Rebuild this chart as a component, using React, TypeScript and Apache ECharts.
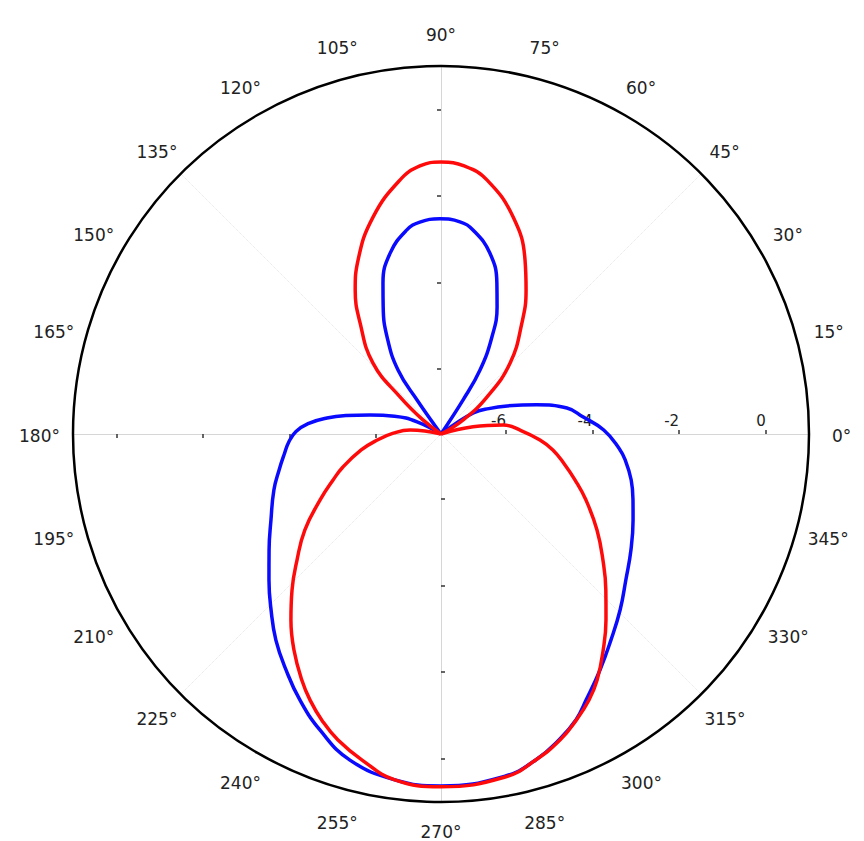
import { useEffect, useRef } from 'react';
import * as echarts from 'echarts';

// ---------- data ----------
const R_MIN = -7.5;
const R_MAX = 1;
const RADIUS_TICKS = [-6, -4, -2, 0];
const ANGLE_STEP = 15;

// blue pattern, upper lobe (angle in degrees, value)
const BLUE_UP_ANG = [57, 57.1, 58.6, 62.3, 66.2, 69.7, 74.9, 81.1, 84.9, 90.3, 95.7, 99.5, 105.7, 111, 114.5, 119.1, 123.9, 125.2, 125.5];
const BLUE_UP_VAL = [-7.5, -6.56, -5.77, -4.97, -4.29, -3.78, -3.17, -2.73, -2.58, -2.53, -2.58, -2.72, -3.16, -3.76, -4.28, -4.94, -5.72, -6.54, -7.5];

// blue pattern, lower lobe
const BLUE_LOW_ANG = [150, 153, 159, 165, 169, 172, 175.5, 179, 183, 187, 192.5, 198.5, 206.8, 214, 220.3, 226, 231.3, 236.7, 242, 247.8, 254.4, 262.4, 270, 280.6, 286.2, 291.3, 295.3, 298.6, 304, 309.5, 315.5, 321.7, 328.6, 335.9, 341, 346.4, 351.9, 355.5, 1.4, 6.9, 11.7, 17, 23, 28, 33, 36, 40];
const BLUE_LOW_VAL = [-7.5, -6.88, -6.35, -5.8, -5.27, -4.84, -4.42, -4.15, -3.98, -3.86, -3.67, -3.43, -3.1, -2.71, -2.29, -1.85, -1.4, -0.98, -0.55, -0.11, 0.32, 0.56, 0.63, 0.54, 0.34, 0.06, -0.2, -0.5, -0.93, -1.33, -1.7, -2.06, -2.36, -2.64, -2.81, -2.98, -3.2, -3.38, -3.74, -4.2, -4.53, -5.19, -5.84, -6.25, -6.61, -7.15, -7.5];

// red pattern, upper lobe
const RED_UP_ANG = [30, 32.5, 38.8, 45.8, 53.9, 59.4, 64.2, 71.6, 79.7, 84.9, 90, 94.5, 99.2, 107.4, 115.5, 120.8, 126.1, 133.8, 137.9, 142.1, 146];
const RED_UP_VAL = [-7.5, -6.9, -6.14, -5.21, -4.33, -3.64, -3.04, -2.22, -1.54, -1.29, -1.22, -1.29, -1.56, -2.25, -3.05, -3.63, -4.33, -5.23, -6.23, -6.97, -7.5];

// red pattern, lower lobe
const RED_LOW_ANG = [165, 172.6, 179, 185.4, 191.3, 198.6, 203.1, 208.6, 215.2, 221.2, 226.3, 231.1, 235.8, 240.5, 243.8, 247.4, 251.4, 256.4, 262.4, 270, 280.6, 286.2, 291.3, 295.3, 299.1, 302.4, 306.9, 311.6, 316.6, 322.1, 328.4, 335.5, 341.1, 346.5, 351.9, 356.5, 2.5, 8.2, 12.7, 18];
const RED_LOW_VAL = [-7.5, -6.78, -6.4, -6.02, -5.62, -5.11, -4.79, -4.32, -3.65, -3.08, -2.52, -1.98, -1.46, -0.97, -0.65, -0.34, -0.04, 0.25, 0.56, 0.65, 0.56, 0.34, 0.08, -0.19, -0.47, -0.77, -1.26, -1.76, -2.26, -2.76, -3.27, -3.82, -4.23, -4.58, -4.89, -5.21, -5.65, -6.05, -6.74, -7.5];

// ---------- layout / style ----------
const CX = 441;
const CY = 434;
const RADIUS = 368;
const LABEL_FS = 17;
const LABEL_MARGIN = -8;
const LABEL_R = 401; // centre of the angle labels
const LABEL_R_BOTTOM = 396; // 270° label pulled in to stay inside the page
const GLYPH_DY = 1.5;
const FONT = 'DejaVu Sans';
const BLUE = '#0a0aff';
const RED = '#ff0a0a';

function zip(vals: number[], angs: number[]) {
  return vals.map((v, i) => [v, angs[i]]);
}

function buildRich() {
  const rich: Record<string, any> = {};
  const ra = RADIUS + LABEL_MARGIN;
  for (let deg = 0; deg < 360; deg += ANGLE_STEP) {
    const t = (deg * Math.PI) / 180;
    const c = Math.cos(t);
    const s = Math.sin(t);
    const w = (String(deg).length * 0.636 + 0.5) * LABEL_FS;
    const h = LABEL_FS;
    const ax = CX + ra * c;
    const ay = CY - ra * s;
    const lr = deg === 270 ? LABEL_R_BOTTOM : LABEL_R;
    const tx = CX + lr * c;
    const ty = CY - lr * s + GLYPH_DY;
    const ha = Math.abs(ax - CX) / RADIUS < 0.3 ? 'center' : ax > CX ? 'left' : 'right';
    const va = Math.abs(ay - CY) / RADIUS < 0.3 ? 'middle' : ay > CY ? 'top' : 'bottom';
    const pad = [0, 0, 0, 0]; // top right bottom left
    if (ha === 'left') pad[3] = tx - ax - w / 2;
    else if (ha === 'right') pad[1] = ax - tx - w / 2;
    else {
      const d = tx - ax;
      if (d > 0) pad[3] = 2 * d;
      else pad[1] = -2 * d;
    }
    if (va === 'bottom') pad[2] = ay - ty - h / 2;
    else if (va === 'top') pad[0] = ty - ay - h / 2;
    else {
      const d = ty - ay;
      if (d < 0) pad[2] = -2 * d;
      else pad[0] = 2 * d;
    }
    rich['a' + deg] = {
      padding: pad.map((p) => Math.max(0, Math.round(p))),
      fontSize: LABEL_FS,
      fontFamily: FONT,
      color: '#222',
    };
  }
  return rich;
}

export default function App() {
  const ref = useRef<HTMLDivElement>(null);

  useEffect(() => {
    if (!ref.current) return;
    const chart = echarts.init(ref.current, undefined, { renderer: 'svg' });

    const diagColors: string[] = [];
    for (let i = 0; i < 24; i++) {
      diagColors.push(i % 3 === 0 && i % 6 !== 0 ? '#e4e4e4' : 'rgba(0,0,0,0)');
    }

    const starts = [0, 90, 180, 270];
    const polar = starts.map(() => ({ center: [CX, CY], radius: RADIUS }));
    const rich = buildRich();
    const angleAxis = starts.map((sa, i) => ({
      polarIndex: i,
      type: 'value',
      min: 0,
      max: 360,
      interval: ANGLE_STEP,
      startAngle: sa,
      clockwise: false,
      show: i === 0,
      axisLine: { show: i === 0, lineStyle: { color: '#000', width: 2.5 } },
      axisTick: { show: false },
      axisLabel: {
        show: i === 0,
        margin: LABEL_MARGIN,
        formatter: (v: number) => (v >= 360 ? '' : `{a${v}|${v}°}`),
        rich,
      },
      splitLine: {
        show: i === 0,
        lineStyle: { color: diagColors, width: 1, type: 'dotted' },
      },
    }));
    const radiusAxis = starts.map((_, i) => ({
      polarIndex: i,
      type: 'value',
      min: R_MIN,
      max: R_MAX,
      axisLine: { show: true, lineStyle: { color: '#d6d6d6', width: 1 } },
      axisTick: {
        show: true,
        customValues: RADIUS_TICKS,
        length: 4,
        lineStyle: { color: '#333', width: 1.5 },
      },
      axisLabel: {
        show: i === 0,
        customValues: RADIUS_TICKS,
        margin: 6,
        align: 'right',
        fontSize: 15,
        fontFamily: FONT,
        color: '#222',
      },
      splitLine: { show: false },
      splitArea: { show: false },
    }));

    const lineSeries = (name: string, data: number[][], color: string, z: number) => ({
      name,
      type: 'line',
      coordinateSystem: 'polar',
      polarIndex: 0,
      data,
      showSymbol: false,
      symbol: 'none',
      smooth: 0.45,
      z,
      lineStyle: { color, width: 3.5 },
    });

    chart.setOption({
      animation: false,
      backgroundColor: '#fff',
      polar,
      angleAxis,
      radiusAxis,
      series: [
        lineSeries('blue-upper', zip(BLUE_UP_VAL, BLUE_UP_ANG), BLUE, 3),
        lineSeries('blue-lower', zip(BLUE_LOW_VAL, BLUE_LOW_ANG), BLUE, 3),
        lineSeries('red-upper', zip(RED_UP_VAL, RED_UP_ANG), RED, 4),
        lineSeries('red-lower', zip(RED_LOW_VAL, RED_LOW_ANG), RED, 4),
      ],
    });

    return () => chart.dispose();
  }, []);

  return (
    <div
      ref={ref}
      style={{ position: 'absolute', left: 0, top: 0, width: 864, height: 841 }}
    />
  );
}
